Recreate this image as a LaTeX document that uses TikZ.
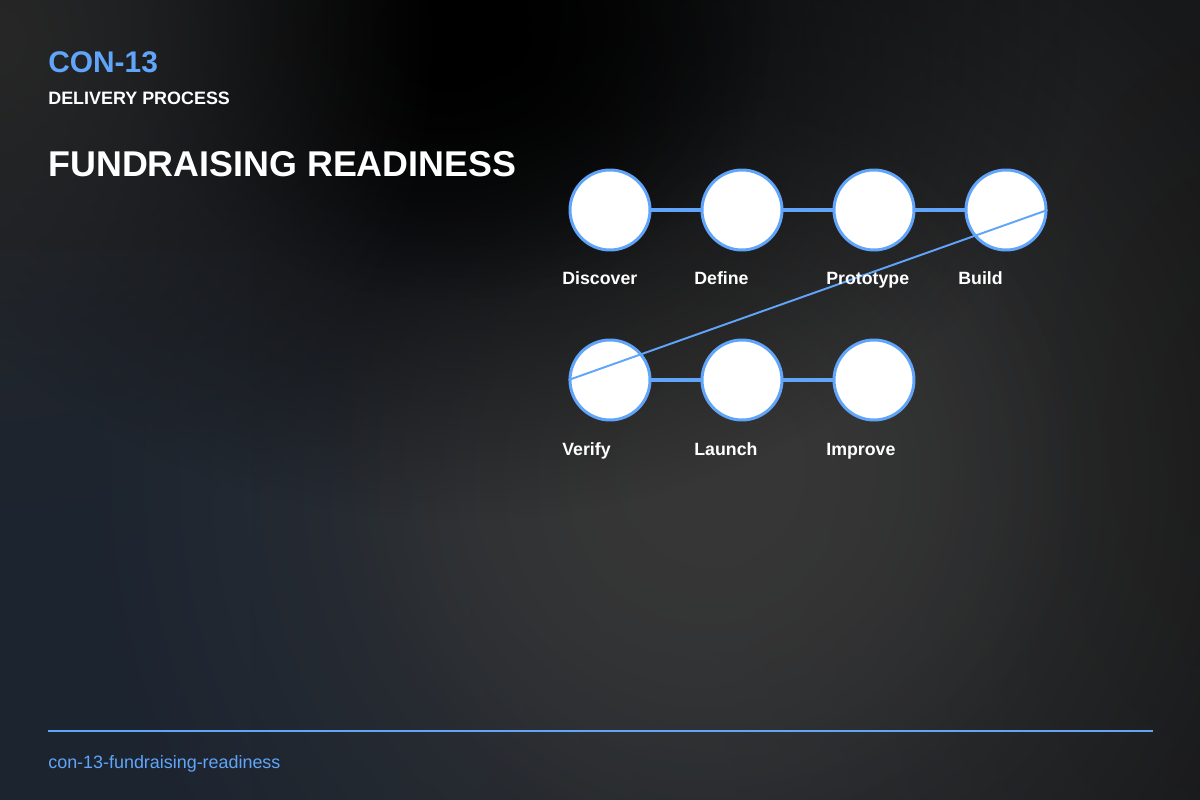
\documentclass[tikz,border=0pt]{standalone}
\usepackage{fontspec}
\setmainfont{Liberation Sans}
\usepackage{tikz}
\usetikzlibrary{fadings}

\definecolor{accent}{HTML}{60A5FA}
\definecolor{bgbase}{HTML}{1B1D20}
\definecolor{bgblue}{HTML}{1C2430}
\definecolor{bggray}{HTML}{272727}
\definecolor{bgglow}{HTML}{373737}
\definecolor{bgdark}{HTML}{151515}

\tikzfading[name=blobfade, inner color=transparent!0, outer color=transparent!100]

\begin{document}
\begin{tikzpicture}[x=0.02cm, y=-0.02cm,
    stepnode/.style={circle, draw=accent, fill=white, line width=1.7pt, minimum size=1.6cm, inner sep=0pt},
    steplabel/.style={anchor=base west, inner sep=0pt, text=white, font=\fontsize{10.1}{12}\selectfont\bfseries},
    link/.style={accent, line width=2pt}]
    \useasboundingbox (0,0) rectangle (1200,800);
    % background
    \begin{scope}
        \clip (0,0) rectangle (1200,800);
        \fill[bgbase] (0,0) rectangle (1200,800);
        \fill[bgblue, path fading=blobfade] (150,620) ellipse (1200 and 1000);
        \fill[bgblue] (0,250) rectangle (250,800);
        \fill[bgblue, path fading=blobfade] (150,560) ellipse (800 and 800);
        \fill[bgdark, path fading=blobfade] (1220,420) ellipse (520 and 1000);
        \fill[bgglow, path fading=blobfade] (720,480) ellipse (640 and 660);
        \fill[bgglow, path fading=blobfade] (710,470) ellipse (380 and 380);
        \fill[black, path fading=blobfade] (460,20) ellipse (620 and 500);
        \fill[black, path fading=blobfade] (450,40) ellipse (320 and 260);
        \fill[bggray, path fading=blobfade] (0,40) ellipse (440 and 520);
    \end{scope}

    % header
    \node[anchor=base west, inner sep=0pt, text=accent, font=\fontsize{17}{20}\selectfont\bfseries] (code) at (48,73) {CON-13};
    \node[anchor=base west, inner sep=0pt, text=white, font=\fontsize{10.2}{12}\selectfont\bfseries] (kind) at (48,105) {DELIVERY PROCESS};
    \node[anchor=base west, inner sep=0pt, text=white, font=\fontsize{20.4}{24}\selectfont\bfseries] (title) at (48,177) {FUNDRAISING READINESS};

    % steps, first row
    \node[stepnode] (discover) at (610,210) {};
    \node[stepnode] (define) at (742,210) {};
    \node[stepnode] (prototype) at (874,210) {};
    \node[stepnode] (build) at (1006,210) {};
    % steps, second row
    \node[stepnode] (verify) at (610,380) {};
    \node[stepnode] (launch) at (742,380) {};
    \node[stepnode] (improve) at (874,380) {};

    % links
    \draw[link] (discover) -- (define);
    \draw[link] (define) -- (prototype);
    \draw[link] (prototype) -- (build);
    \draw[link] (verify) -- (launch);
    \draw[link] (launch) -- (improve);
    \draw[accent, line width=1.1pt] (build.east) -- (verify.west);

    % labels
    \node[steplabel] (lDiscover) at (562,285) {Discover};
    \node[steplabel] (lDefine) at (694,285) {Define};
    \node[steplabel] (lPrototype) at (826,285) {Prototype};
    \node[steplabel] (lBuild) at (958,285) {Build};
    \node[steplabel] (lVerify) at (562,455) {Verify};
    \node[steplabel] (lLaunch) at (694,455) {Launch};
    \node[steplabel] (lImprove) at (826,455) {Improve};

    % footer
    \draw[accent, line width=1.1pt] (48,731) -- (1153,731);
    \node[anchor=base west, inner sep=0pt, text=accent, font=\fontsize{10.2}{12}\selectfont] (slug) at (48,768) {con-13-fundraising-readiness};
\end{tikzpicture}
\end{document}
